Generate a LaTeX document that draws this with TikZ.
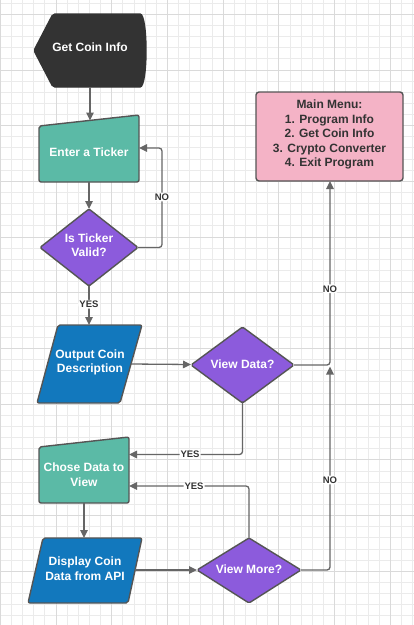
\documentclass[tikz,border=0pt]{standalone}
\usepackage{fontspec}
\setmainfont{Liberation Sans}
\usetikzlibrary{arrows.meta}
\definecolor{darkfill}{HTML}{333333}
\definecolor{tealfill}{HTML}{5BBAA6}
\definecolor{bluefill}{HTML}{1278BD}
\definecolor{purplefill}{HTML}{8C5BDC}
\definecolor{pinkfill}{HTML}{F4B3C6}
\definecolor{edgegray}{HTML}{555555}
\definecolor{linegray}{HTML}{666666}
\definecolor{textdark}{HTML}{333333}
\definecolor{gridminor}{HTML}{EBEBEB}
\definecolor{gridmajor}{HTML}{DADADA}
\tikzset{
  shapebox/.style={draw=edgegray, line width=1.4pt, rounded corners=2pt, line join=round},
  boxtext/.style={font=\bfseries\fontsize{12}{14.5}\selectfont, text=white, align=center, inner sep=0pt},
  menutext/.style={font=\bfseries\fontsize{12}{14.5}\selectfont, text=textdark, align=center, inner sep=0pt},
  conn/.style={draw=linegray, line width=1.3pt, rounded corners=3pt, -{Triangle[length=8pt,width=7.5pt]}},
  lbl/.style={font=\bfseries\fontsize{9.5}{10}\selectfont, text=textdark, fill=white, inner sep=1pt},
}
\begin{document}
\begin{tikzpicture}[x=1pt, y=-1pt]
\useasboundingbox (0,0) rectangle (414,625);
\fill[white] (0,0) rectangle (414,625);
% grid
\foreach \i in {0,...,37} \draw[gridminor, line width=1pt] ({0.4+11.14*\i},0) -- ({0.4+11.14*\i},625);
\foreach \i in {0,...,55} \draw[gridminor, line width=1pt] (0,{3.16+11.14*\i}) -- (414,{3.16+11.14*\i});
\foreach \i in {0,...,7} \draw[gridmajor, line width=1pt] ({0.4+55.7*\i},0) -- ({0.4+55.7*\i},625);
\foreach \i in {0,...,10} \draw[gridmajor, line width=1pt] (0,{14.3+55.7*\i}) -- (414,{14.3+55.7*\i});

% Get Coin Info (display shape)
\filldraw[shapebox, fill=darkfill, draw=darkfill] (53,14) -- (138,14) .. controls (148,14) and (148,87) .. (138,87) -- (53,87) -- (34,50.5) -- cycle;
\node[boxtext] (gci) at (90,47.5) {Get Coin Info};
\coordinate (gci-s) at (90,87);

% Enter a Ticker (manual input)
\filldraw[shapebox, fill=tealfill] (39,126) -- (139,115) -- (139,182) -- (39,182) -- cycle;
\node[boxtext] (tick) at (89,152) {Enter a Ticker};
\coordinate (tick-n) at (90,120.5);
\coordinate (tick-s) at (89,182);
\coordinate (tick-e) at (139,148);

% Is Ticker Valid? (diamond)
\filldraw[shapebox, fill=purplefill, rounded corners=1.5pt] (89,209) -- (138,247.5) -- (89,286) -- (40,247.5) -- cycle;
\node[boxtext] (valid) at (89,245) {Is Ticker\\Valid?};
\coordinate (valid-n) at (89,209);
\coordinate (valid-s) at (89,286);
\coordinate (valid-e) at (138,247.5);

% Output Coin Description (parallelogram)
\filldraw[shapebox, fill=bluefill] (58,325) -- (142,325) -- (120,403) -- (37,403) -- cycle;
\node[boxtext] (outc) at (90,362.5) {Output Coin\\Description};
\coordinate (outc-n) at (89,325);
\coordinate (outc-e) at (131,364);

% View Data? (diamond)
\filldraw[shapebox, fill=purplefill, rounded corners=1.5pt] (242.5,327) -- (294,365) -- (242.5,403) -- (191,365) -- cycle;
\node[boxtext] (vdata) at (242.5,364) {View Data?};
\coordinate (vdata-w) at (191,364.5);
\coordinate (vdata-e) at (294,365);
\coordinate (vdata-s) at (242.5,403);

% Main Menu
\filldraw[shapebox, fill=pinkfill, rounded corners=3pt] (256,92) rectangle (403,181);
\node[menutext] (menu) at (329.5,134.5) {Main Menu:\\1. Program Info\\2. Get Coin Info\\3. Crypto Converter\\4. Exit Program};
\coordinate (menu-s) at (330,181);

% Chose Data to View (manual input)
\filldraw[shapebox, fill=tealfill] (39,447) -- (129,437) -- (129,503) -- (39,503) -- cycle;
\node[boxtext] (chose) at (84,474.5) {Chose Data to\\View};
\coordinate (chose-s) at (84,503);
\coordinate (chose-e1) at (129,454.5);
\coordinate (chose-e2) at (129,486);

% Display Coin Data from API (parallelogram)
\filldraw[shapebox, fill=bluefill] (43,538) -- (142,538) -- (128,603) -- (28,603) -- cycle;
\node[boxtext] (disp) at (85,568.5) {Display Coin\\Data from API};
\coordinate (disp-n) at (84,538);
\coordinate (disp-e) at (135,570);

% View More? (diamond)
\filldraw[shapebox, fill=purplefill, rounded corners=1.5pt] (249,538) -- (301,570) -- (249,603) -- (197,570) -- cycle;
\node[boxtext] (vmore) at (249,569) {View More?};
\coordinate (vmore-w) at (197,570);
\coordinate (vmore-n) at (249,538);
\coordinate (vmore-e) at (301,570);
\coordinate (junction) at (330,366.5);

% connectors
\draw[conn] (gci-s) -- (tick-n);
\draw[conn] (tick-s) -- (valid-n);
\draw[conn] (valid-e) -- ++(24,0) |- (tick-e) node[pos=0.254, lbl] {NO};
\draw[conn] (valid-s) -- (outc-n) node[pos=0.47, lbl] {YES};
\draw[conn] (outc-e) -- (vdata-w);
\draw[conn] (vdata-e) -| (menu-s) node[pos=0.707, lbl] {NO};
\draw[conn] (vdata-s) |- (chose-e1) node[pos=0.731, lbl] {YES};
\draw[conn] (chose-s) -- (disp-n);
\draw[conn] (disp-e) -- (vmore-w);
\draw[conn] (vmore-n) |- (chose-e2) node[pos=0.729, lbl] {YES};
\draw[conn] (vmore-e) -| (junction) node[pos=0.721, lbl] {NO};
\end{tikzpicture}
\end{document}
